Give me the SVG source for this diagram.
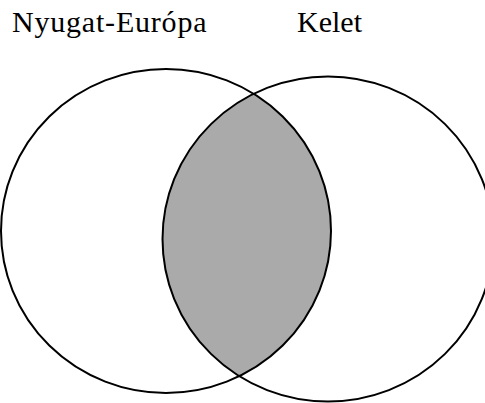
<svg xmlns="http://www.w3.org/2000/svg" width="485" height="403" viewBox="0 0 485 403">
<style>
text{font-family:"Liberation Serif","Times New Roman",serif;font-size:30px;fill:#000}
.c{fill:none;stroke:#000;stroke-width:2}
</style>
<defs>
<clipPath id="clipL"><ellipse cx="166" cy="231" rx="165" ry="162"/></clipPath>
</defs>
<rect width="485" height="403" fill="#fff"/>
<g id="lens"><ellipse cx="328" cy="239" rx="165.5" ry="162.5" clip-path="url(#clipL)" fill="#aaaaaa"/></g>
<g id="west"><ellipse class="c" cx="166" cy="231" rx="165" ry="162"/></g>
<g id="east"><ellipse class="c" cx="328" cy="239" rx="165.5" ry="162.5"/></g>
<g id="labels">
<text x="12" y="32" letter-spacing="0.8">Nyugat-Európa</text>
<text x="297" y="32">Kelet</text>
</g>
</svg>
